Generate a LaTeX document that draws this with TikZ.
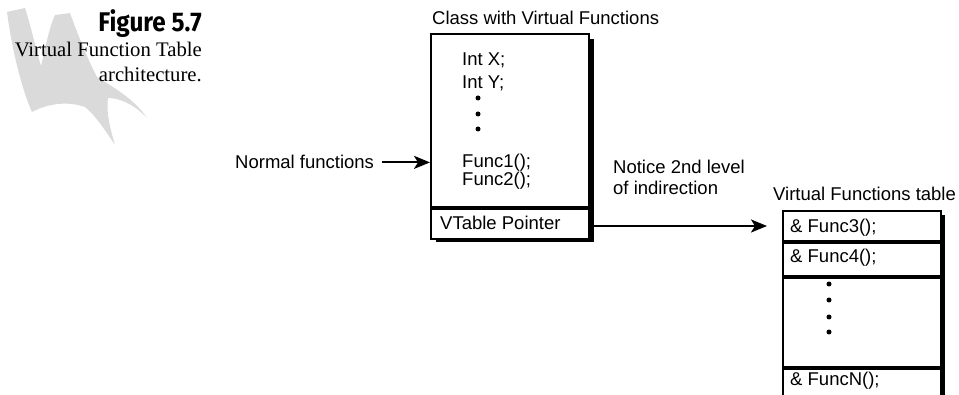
\documentclass[tikz,border=0pt]{standalone}
\usepackage{fontspec}
\setmainfont{Liberation Sans}
\newfontfamily\captionserif{Liberation Serif}
\newfontfamily\figheadfont{Fira Sans}
\usetikzlibrary{arrows.meta,calc}
\definecolor{clawgray}{RGB}{218,218,218}

\begin{document}
\begin{tikzpicture}[x=1pt,y=-1pt,
  lbl/.style={inner sep=0pt, anchor=base west, font=\fontsize{18.5}{20}\selectfont},
  caplbl/.style={inner sep=0pt, anchor=base east, font=\captionserif\fontsize{20.7}{22}\selectfont},
  field/.style={draw=black, fill=white, line width=2pt, inner sep=0pt,
                minimum width=158pt, anchor=north west},
  dropshadow/.style={fill=black},
  bullet/.style={circle, fill=black, inner sep=0pt, minimum size=5pt},
  pointer/.style={line width=2.2pt, -{Stealth[length=16pt,width=13pt,inset=4pt]}},
]
\useasboundingbox (0,0) rectangle (959,395);

% decorative talon behind the figure caption
\fill[clawgray] (7,12) -- (25,8)
  .. controls (32,30) and (36,50) .. (41,66)
  .. controls (46,45) and (50,25) .. (55,15) -- (70,13)
  .. controls (78,35) and (88,60) .. (97,77)
  .. controls (115,88) and (135,100) .. (147,118)
  .. controls (135,105) and (120,98) .. (108,98)
  .. controls (106,112) and (110,128) .. (115,145)
  .. controls (105,130) and (95,115) .. (85,107)
  .. controls (65,100) and (45,105) .. (32,112)
  .. controls (22,90) and (12,50) .. (7,12) -- cycle;

% figure caption
\node[inner sep=0pt, anchor=base east] (fighead) at (202,32)
  {\scalebox{0.9}[1]{\figheadfont\bfseries\fontsize{27}{28}\selectfont Figure 5.7}};
\node[caplbl] (cap1) at (202,57) {Virtual Function Table};
\node[caplbl] (cap2) at (202,82) {architecture.};

% class object
\fill[dropshadow] (436,39) rectangle (594,242);
\node[field, minimum height=173pt] (classbody) at (430,33) {};
\node[field, minimum height=30pt] (vptr) at (classbody.south west) {};
\node[lbl] (title) at (432,25) {Class with Virtual Functions};
\node[lbl] (intx) at (462,66) {Int X;};
\node[lbl] (inty) at (462,89) {Int Y;};
\node[bullet] (cd1) at (478,98) {};
\node[bullet] (cd2) at (478,114) {};
\node[bullet] (cd3) at (478,129) {};
\node[lbl] (func1) at (462,168) {Func1();};
\node[lbl] (func2) at (462,186) {Func2();};
\node[lbl] (vptrtext) at (440,230) {VTable Pointer};

% incoming normal calls
\node[lbl] (normal) at (235,169) {Normal functions};
\draw[pointer] ([xshift=8pt]normal.east) -- (normal.east -| classbody.west);

% virtual function table
\fill[dropshadow] (787,215) rectangle (945,396);
\node[field, minimum height=30pt] (f3) at (782,210) {};
\node[field, minimum height=33pt] (f4) at (f3.south west) {};
\node[field, minimum height=89pt] (fmid) at (f4.south west) {};
\node[field, minimum height=29pt] (fn) at (fmid.south west) {};
\node[lbl] (vtabtitle) at (773,201) {Virtual Functions table};
\node[lbl] (f3text) at (790,233) {\& Func3();};
\node[lbl] (f4text) at (790,263) {\& Func4();};
\node[bullet] (td1) at (829,284) {};
\node[bullet] (td2) at (829,300) {};
\node[bullet] (td3) at (829,317) {};
\node[bullet] (td4) at (829,332) {};
\node[lbl] (fntext) at (790,385) {\& FuncN();};

% pointer into the table
\node[lbl] (note1) at (613,174) {Notice 2nd level};
\node[lbl] (note2) at (613,195) {of indirection};
\draw[pointer, shorten >=15pt] ([yshift=-2pt]vptr.east) -- ([yshift=-2pt]vptr.east -| f3.west);
\end{tikzpicture}
\end{document}
